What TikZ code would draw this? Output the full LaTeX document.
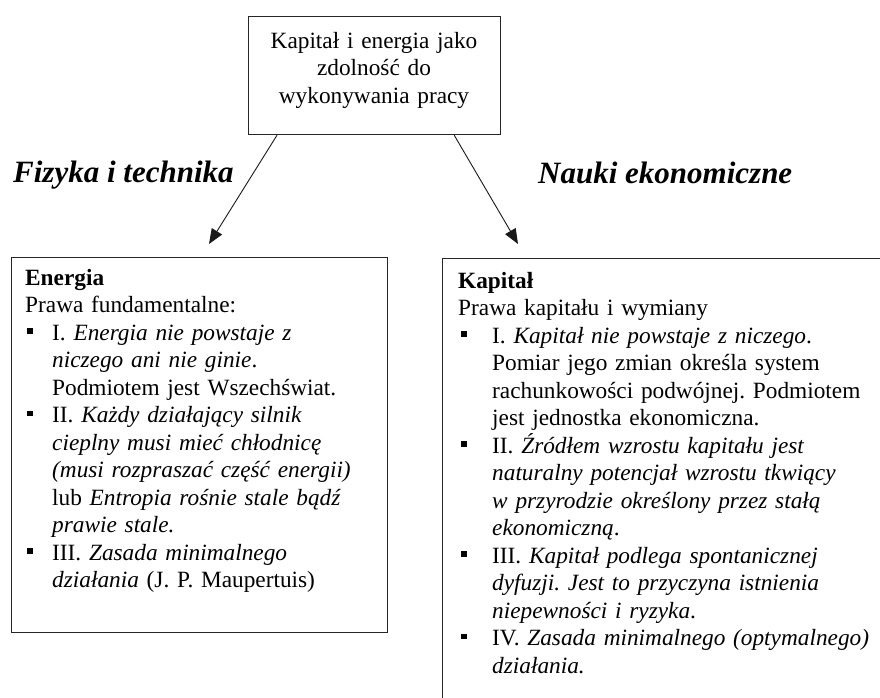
\documentclass[tikz,border=0pt]{standalone}
\usepackage{fontspec}
\setmainfont{Liberation Serif}
\usetikzlibrary{arrows.meta}
\frenchspacing
\newcommand\sqbul{\raisebox{6.5pt}{\rule{5.5pt}{5.5pt}}}
\newcommand\bulL{\makebox[27pt][l]{\hspace{2pt}\sqbul}}
\newcommand\indL{\makebox[27pt]{}}
\newcommand\bulR{\makebox[34pt][l]{\hspace{3pt}\sqbul}}
\newcommand\indR{\makebox[34pt]{}}
\begin{document}
\begin{tikzpicture}[x=1pt,y=-1pt,
  box/.style={draw=black!85, line width=1.2pt, inner sep=0, anchor=north west},
  bodytext/.style={inner sep=0, anchor=north west, align=left, text width=500pt,
    font=\fontsize{23.3}{27.5}\selectfont\frenchspacing},
  toptext/.style={inner sep=0, anchor=north, align=center, text width=250pt,
    font=\fontsize{23.3}{27.5}\selectfont},
  heading/.style={inner sep=0, anchor=base west,
    font=\fontsize{31}{31}\selectfont\bfseries\itshape},
  arr/.style={line width=0.9pt, draw=black!90, -{Triangle[length=15pt,width=12pt]}}]
\fill[white] (0,0) rectangle (880,697);
\useasboundingbox (0,0) rectangle (880,697);

% top box
\node[box, minimum width=252pt, minimum height=118pt] (top) at (248,16) {};
\node[toptext] (toplabel) at (374,28) {\rule{0pt}{20pt}Kapitał i energia jako\\zdolność do\\wykonywania pracy};

% headings
\node[heading] (fiz) at (13,182) {Fizyka i technika};
\node[heading] (nauki) at (538,183) {Nauki ekonomiczne};

% left box
\node[box, minimum width=376pt, minimum height=375pt] (ener) at (11,257) {};
\node[bodytext] (enertext) at (25,265) {\rule{0pt}{20pt}\textbf{Energia}\\
Prawa fundamentalne:\\
\bulL I. \textit{Energia nie powstaje z}\\
\indL\textit{niczego ani nie ginie}.\\
\indL Podmiotem jest Wszechświat.\\
\bulL II. \textit{Każdy działający silnik}\\
\indL\textit{cieplny musi mieć chłodnicę}\\
\indL\textit{(musi rozpraszać część energii)}\\
\indL lub \textit{Entropia rośnie stale bądź}\\
\indL\textit{prawie stale.}\\
\bulL III. \textit{Zasada minimalnego}\\
\indL\textit{działania} (J. P. Maupertuis)};

% right box (runs past the page edge)
\begin{scope}
\clip (0,0) rectangle (880,697);
\node[box, minimum width=470pt, minimum height=460pt] (kap) at (442,258) {};
\end{scope}
\node[bodytext] (kaptext) at (458,268) {\rule{0pt}{20pt}\textbf{Kapitał}\\
Prawa kapitału i wymiany\\
\bulR I. \textit{Kapitał nie powstaje z niczego}.\\
\indR Pomiar jego zmian określa system\\
\indR rachunkowości podwójnej. Podmiotem\\
\indR jest jednostka ekonomiczna.\\
\bulR II. \textit{Źródłem wzrostu kapitału jest}\\
\indR\textit{naturalny potencjał wzrostu tkwiący}\\
\indR\textit{w przyrodzie określony przez stałą}\\
\indR\textit{ekonomiczną}.\\
\bulR III. \textit{Kapitał podlega spontanicznej}\\
\indR\textit{dyfuzji. Jest to przyczyna istnienia}\\
\indR\textit{niepewności i ryzyka}.\\
\bulR IV. \textit{Zasada minimalnego (optymalnego)}\\
\indR\textit{działania.}};

% connectors
\coordinate (s1) at ([xshift=29pt]top.south west);
\coordinate (s2) at ([xshift=-47pt]top.south east);
\coordinate (e1) at (209,244);
\coordinate (e2) at (518,244);
\draw[arr] (s1) -- (e1);
\draw[arr] (s2) -- (e2);
\end{tikzpicture}
\end{document}
